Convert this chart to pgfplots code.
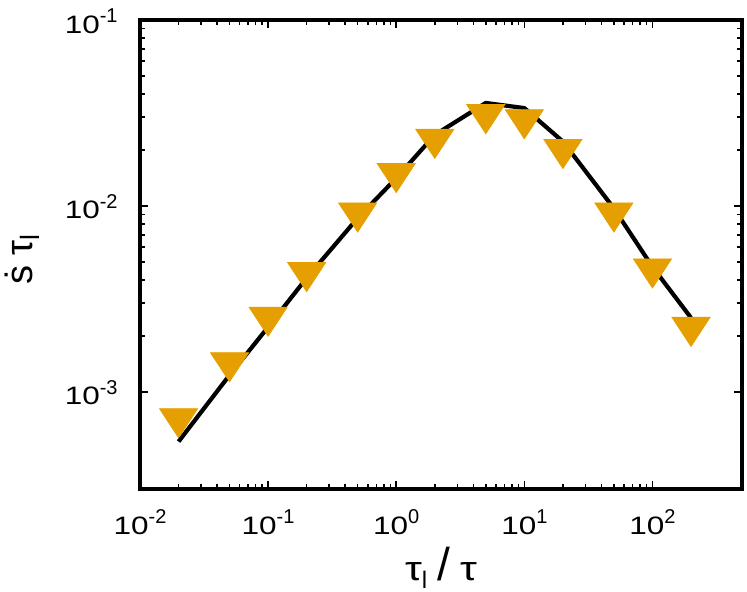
\documentclass[border=0pt]{standalone}
\usepackage{fontspec}
\setmainfont{Liberation Sans}
\newfontfamily\widefont[FakeStretch=1.25]{Liberation Sans}
\usepackage{pgfplots}
\pgfplotsset{compat=1.18}
\definecolor{gporange}{RGB}{230,159,0}
% gnuplot-like power-of-ten label
\newcommand\pten[1]{{\fontsize{12.6}{14}\widefont 10}\raisebox{5.3pt}{\fontsize{10}{12}\selectfont #1}}

\begin{document}
\begin{tikzpicture}
\begin{loglogaxis}[
    at={(0,0)}, anchor=south west,
    scale only axis,
    width=301pt, height=234.5pt,
    xmin=0.01, xmax=500,
    ymin=3e-4, ymax=0.1,
    axis line style={line width=1.6pt},
    tick style={line width=0.8pt, black},
    major tick length=4pt, minor tick length=2.5pt,
    tick align=inside,
    xtick={0.01,0.1,1,10,100},
    xticklabels={\pten{-2},\pten{-1},\pten{0},\pten{1},\pten{2}},
    ytick={0.001,0.01,0.1},
    yticklabels={\pten{-3},\pten{-2},\pten{-1}},
    tick label style={inner sep=0pt},
    xticklabel style={anchor=base, yshift=-22.5pt},
    yticklabel style={anchor=base east, xshift=-11pt, yshift=-6.5pt},
    xlabel={{\fontsize{17}{19}\widefont τ}\raisebox{-4pt}{\fontsize{12}{14}\selectfont l}\hspace{5pt}{\fontsize{23}{26}\selectfont /}\hspace{5pt}{\fontsize{17}{19}\widefont τ}},
    ylabel={ṡ τ\textsubscript{l}},
    ylabel style={font=\fontsize{19}{22}\selectfont, at={(axis description cs:-0.196,0.49)}, anchor=center},
    xlabel style={at={(axis description cs:0.5,0)}, anchor=base, yshift=-45.5pt},
]
% simulation points
\addplot[only marks, color=gporange, mark=triangle*, mark size=9.67pt,
    mark options={rotate=180, xscale=1.134, fill=gporange, draw=gporange}] coordinates {
    (0.02,7.2e-4) (0.05,1.44e-3) (0.1,2.53e-3) (0.2,4.4e-3) (0.5,9.2e-3)
    (1,0.0150) (2,0.0229) (5,0.0311) (10,0.0292) (20,0.0202)
    (50,9.2e-3) (100,4.6e-3) (200,2.23e-3)
};
% model curve
\addplot[black, line width=2.1pt, no marks] coordinates {
    (0.02,5.4e-4) (0.05,1.23e-3) (0.1,2.23e-3) (0.2,4.1e-3) (0.5,8.6e-3)
    (1,0.0141) (2,0.0241) (5,0.0358) (10,0.0336) (20,0.0222)
    (50,9.7e-3) (100,4.7e-3) (200,2.5e-3)
};
\end{loglogaxis}
\pgfresetboundingbox
\path (-70pt,-51pt) rectangle (303.5pt,244.5pt);
\end{tikzpicture}
\end{document}
